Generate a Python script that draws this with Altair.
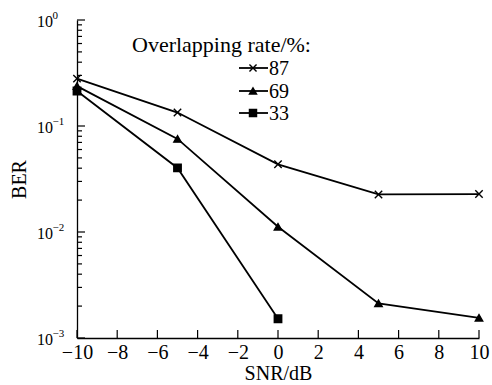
import altair as alt
import pandas as pd

# ---- data ----
snr = [-10, -5, 0, 5, 10]
ber_87 = [0.28, 0.134, 0.0435, 0.0226, 0.0228]
ber_69 = [0.238, 0.0755, 0.0112, 0.00212, 0.00155]
snr_33 = [-10, -5, 0]
ber_33 = [0.214, 0.0402, 0.00152]

series_names = ["87", "69", "33"]
x_ticks = [-10, -8, -6, -4, -2, 0, 2, 4, 6, 8, 10]
y_major = [1, 0.1, 0.01, 0.001]
y_exp = ["0", "\u22121", "\u22122", "\u22123"]
y_minor = [m * d for d in [0.1, 0.01, 0.001] for m in range(2, 10)]

rows = []
for s, xs_, ys_ in [("87", snr, ber_87), ("69", snr, ber_69), ("33", snr_33, ber_33)]:
    for a, b in zip(xs_, ys_):
        rows.append({"series": s, "snr": a, "ber": b})
df = pd.DataFrame(rows)

FONT = "Liberation Serif"
XPATH = "M-1,-1L1,1M1,-1L-1,1"
shape_scale = alt.Scale(domain=series_names, range=[XPATH, "triangle-up", "square"])

xs = alt.Scale(domain=[-10, 10], nice=False, zero=False)
ys = alt.Scale(type="log", domain=[0.001, 1], nice=False)

x_axis = alt.Axis(
    values=x_ticks, ticks=False, grid=False, domainColor="black", domainWidth=1.3,
    labelFont=FONT, labelFontSize=20, labelColor="black", labelPadding=4,
    labelFlush=False, title="SNR/dB", titleFont=FONT, titleFontSize=20,
    titleFontWeight="normal", titleColor="black", titlePadding=1)
y_axis = alt.Axis(
    labels=False, ticks=False, grid=False, domainColor="black", domainWidth=1.3,
    title="BER", titleFont=FONT, titleFontSize=20, titleFontWeight="normal",
    titleColor="black", titlePadding=48)


def X(f):
    return alt.X(f, scale=xs, axis=x_axis, title="SNR/dB")


def Y(f):
    return alt.Y(f, scale=ys, axis=y_axis, title="BER")


base = alt.Chart(df)

lines = base.mark_line(color="black", strokeWidth=1.8).encode(
    x=X("snr:Q"), y=Y("ber:Q"), detail="series:N")

points = base.mark_point(fill="black", stroke="black", strokeWidth=1.4, opacity=1, size=55).encode(
    x=X("snr:Q"), y=Y("ber:Q"),
    shape=alt.Shape("series:N", scale=shape_scale, legend=None),
)

# y ticks (inward)
ymaj_df = pd.DataFrame({"ber": y_major, "e": y_exp})
ymin_df = pd.DataFrame({"ber": y_minor})
ymaj_ticks = alt.Chart(ymaj_df).mark_rule(color="black", strokeWidth=1.2).encode(
    y=Y("ber:Q"), x=alt.value(0), x2=alt.value(8))
ymin_ticks = alt.Chart(ymin_df).mark_rule(color="black", strokeWidth=1.2).encode(
    y=Y("ber:Q"), x=alt.value(0), x2=alt.value(5))

# x ticks (inward)
xt_df = pd.DataFrame({"snr": x_ticks})
x_tick_marks = alt.Chart(xt_df).mark_rule(color="black", strokeWidth=1.2).encode(
    x=X("snr:Q"), y=alt.value(318), y2=alt.value(310))

# y tick labels 10^n
ylab_base = alt.Chart(ymaj_df).mark_text(
    font=FONT, fontSize=16, align="left", baseline="middle", color="black", dy=2
).encode(y=Y("ber:Q"), x=alt.value(-40), text=alt.value("10"))
ylab_exp = alt.Chart(ymaj_df).mark_text(
    font=FONT, fontSize=11, align="left", baseline="alphabetic", color="black", dy=-1
).encode(y=Y("ber:Q"), x=alt.value(-24.5), text="e:N")

# legend
leg_title = alt.Chart(pd.DataFrame({"t": ["Overlapping rate/%:"]})).mark_text(
    font=FONT, fontSize=22, align="left", baseline="alphabetic", color="black"
).encode(x=alt.value(55), y=alt.value(32), text="t:N")

legend_layers = [leg_title]
row_y = [48, 71, 93]
for name, ry in zip(series_names, row_y):
    ldf = pd.DataFrame({"series": [name]})
    legend_layers.append(alt.Chart(ldf).mark_rule(color="black", strokeWidth=1.8).encode(
        x=alt.value(162), x2=alt.value(191), y=alt.value(ry)))
    legend_layers.append(alt.Chart(ldf).mark_point(
        fill="black", stroke="black", strokeWidth=1.4, opacity=1, size=50).encode(
        x=alt.value(176), y=alt.value(ry),
        shape=alt.Shape("series:N", scale=shape_scale, legend=None)))
    legend_layers.append(alt.Chart(ldf).mark_text(
        font=FONT, fontSize=20, align="left", baseline="middle", color="black", dy=1).encode(
        x=alt.value(192), y=alt.value(ry), text="series:N"))

chart = alt.layer(
    lines, points, ymaj_ticks, ymin_ticks, x_tick_marks, ylab_base, ylab_exp, *legend_layers
).properties(
    width=402, height=318,
    autosize=alt.AutoSizeParams(type="none"),
    padding={"left": 77, "top": 20, "right": 13, "bottom": 47},
    background="white",
).configure_view(stroke=None)

chart.save("out.html", embed_options={"renderer": "svg", "actions": False})
